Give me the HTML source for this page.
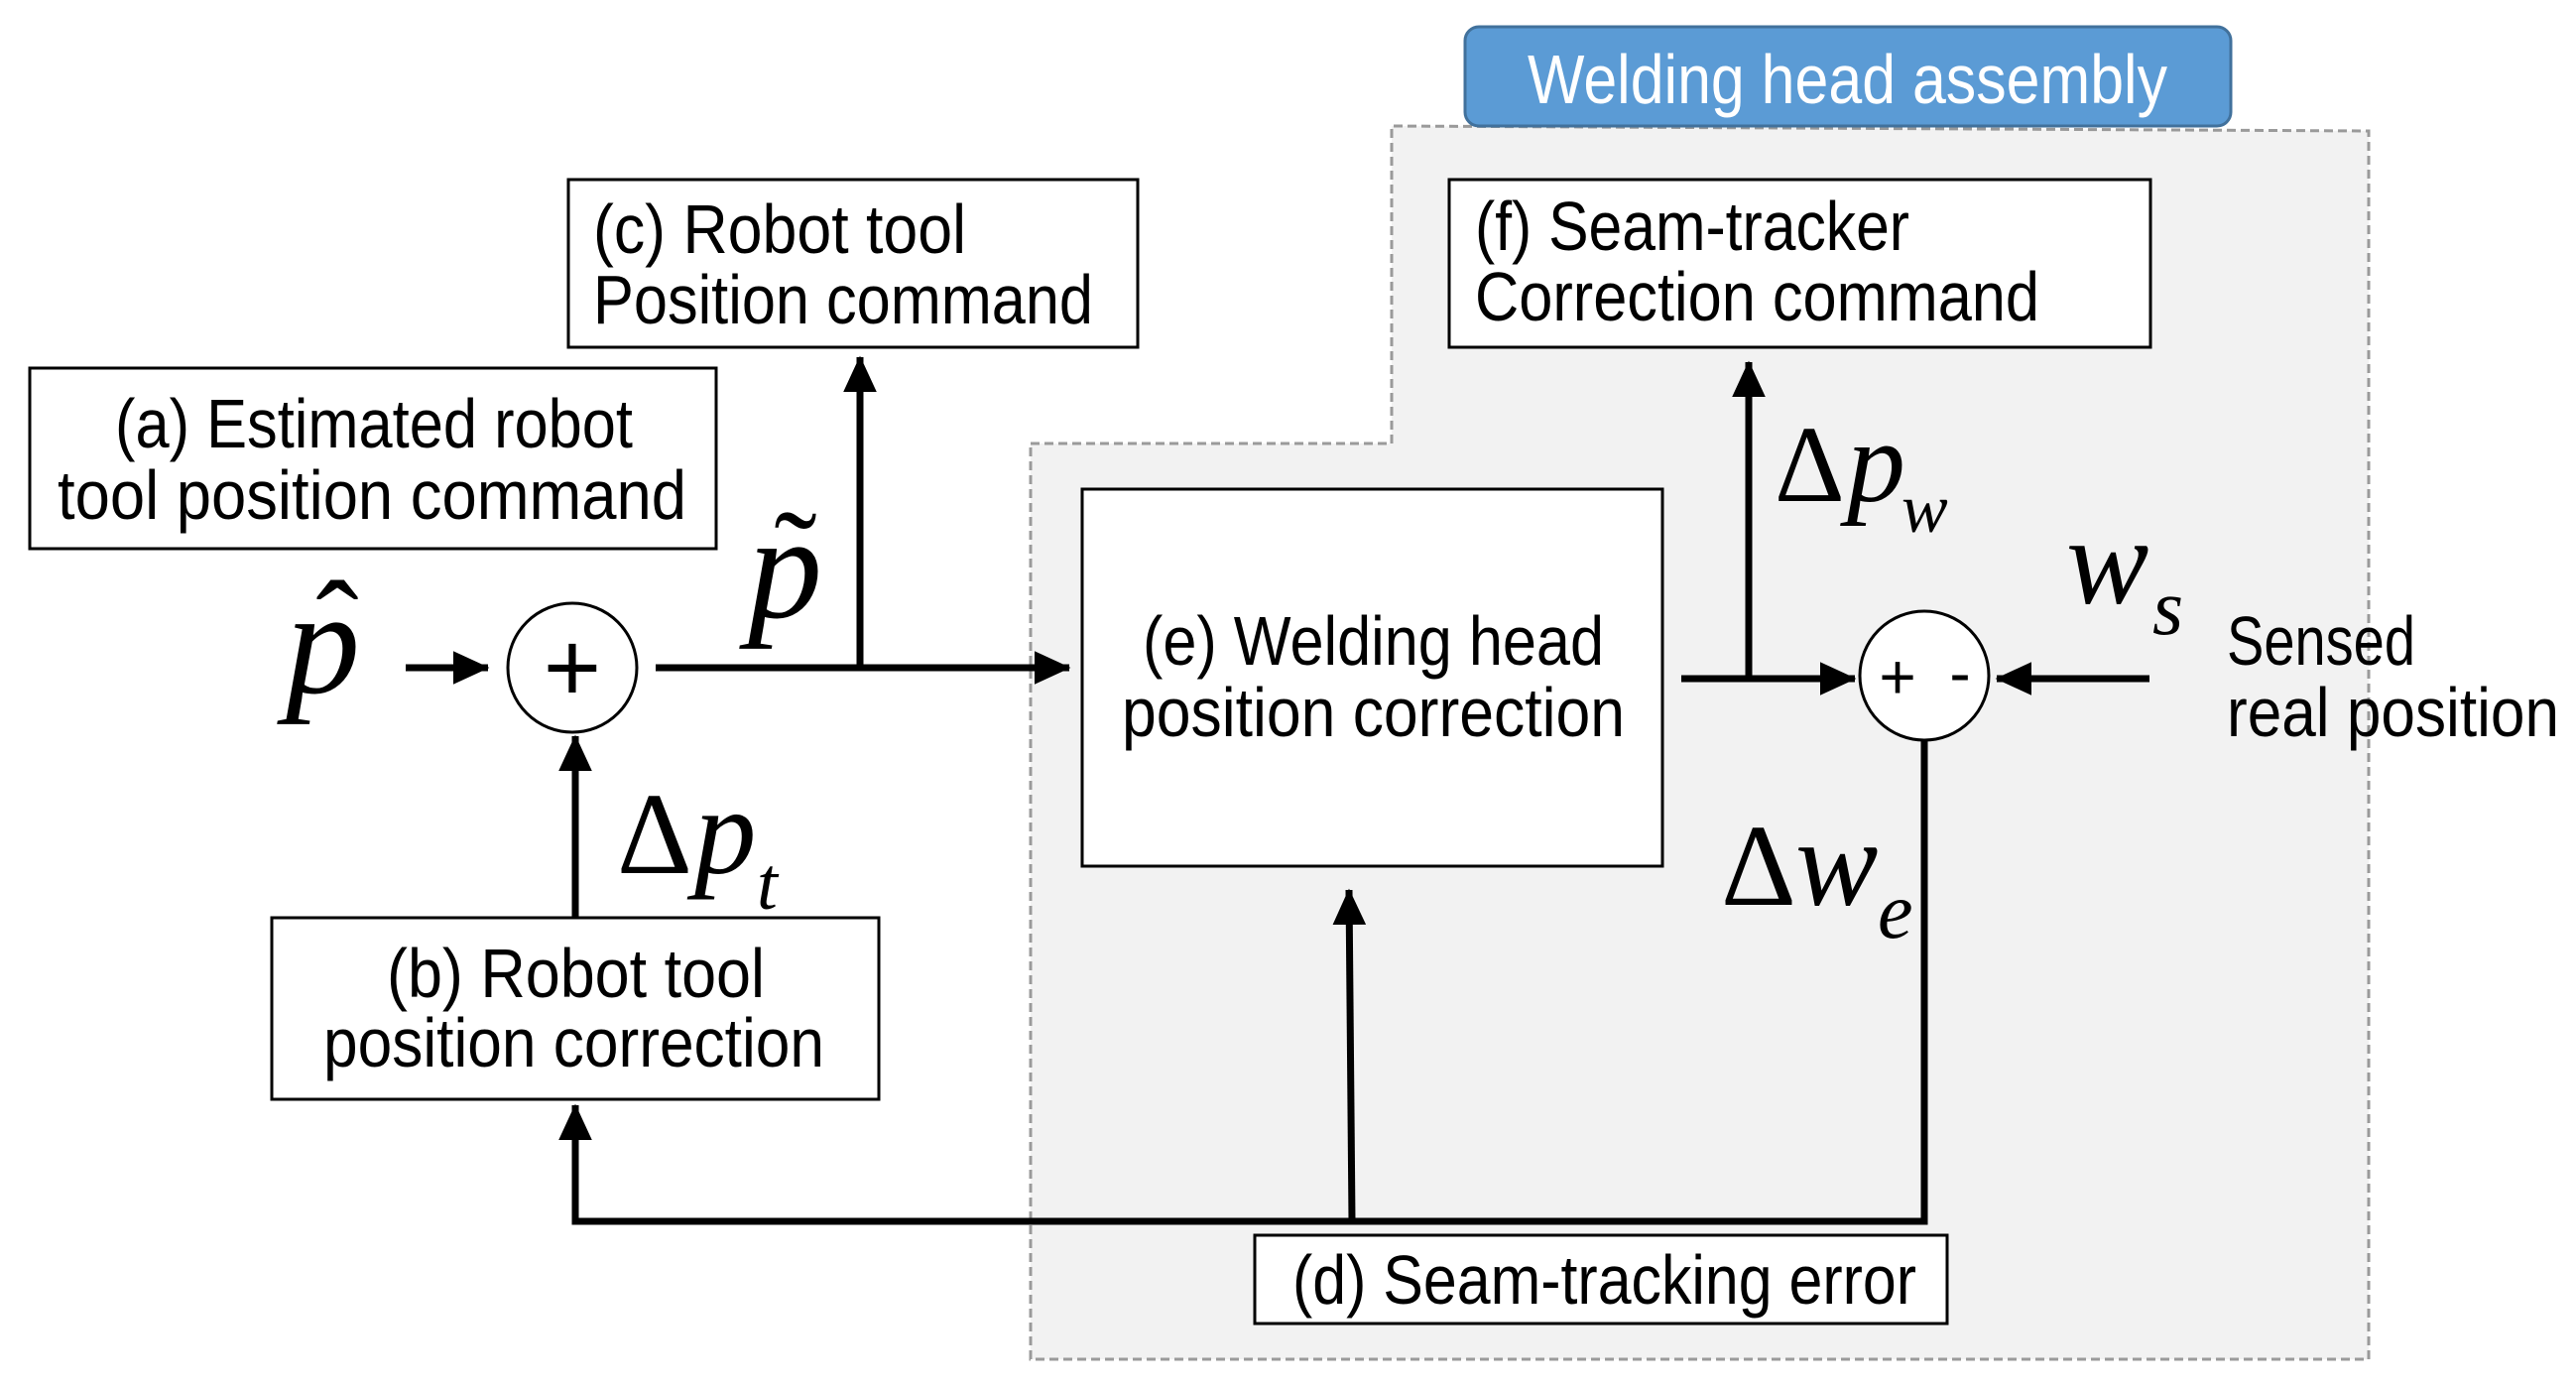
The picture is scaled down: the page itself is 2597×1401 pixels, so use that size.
<!DOCTYPE html>
<html><head><meta charset="utf-8"><style>
html,body{margin:0;padding:0;background:#fff;}
svg{display:block}
.t{font-family:"Liberation Sans",sans-serif;font-size:70px;fill:#000}
.m{font-family:"Liberation Serif",serif;font-style:italic;fill:#000}
.d{font-family:"Liberation Serif",serif;fill:#000}
</style></head><body>
<svg width="2597" height="1401" viewBox="0 0 2597 1401" xmlns="http://www.w3.org/2000/svg">
<defs>
<marker id="ah" markerWidth="6" markerHeight="6" refX="5" refY="3" orient="auto" markerUnits="strokeWidth">
<path d="M0,0.6 L5.2,3 L0,5.4 Z" fill="#000"/>
</marker>
</defs>
<path d="M1039,447 L1403,447 L1403,127 L2388,132 L2388,1370 L1039,1370 Z" fill="#f2f2f2" stroke="#9a9a9a" stroke-width="3" stroke-dasharray="9,5"/>
<rect x="1477" y="27" width="772" height="100" rx="14" fill="#5b9bd5" stroke="#41719c" stroke-width="3"/>
<text class="t" x="1540" y="104" style="fill:#fff" textLength="645" lengthAdjust="spacingAndGlyphs">Welding head assembly</text>

<rect x="573" y="181" width="574" height="169" fill="#fff" stroke="#000" stroke-width="3"/>
<text class="t" x="598" y="255" textLength="376" lengthAdjust="spacingAndGlyphs">(c) Robot tool</text>
<text class="t" x="598" y="326" textLength="504" lengthAdjust="spacingAndGlyphs">Position command</text>

<rect x="30" y="371" width="692" height="182" fill="#fff" stroke="#000" stroke-width="3"/>
<text class="t" x="116" y="451" textLength="522" lengthAdjust="spacingAndGlyphs">(a) Estimated robot</text>
<text class="t" x="58" y="523" textLength="634" lengthAdjust="spacingAndGlyphs">tool position command</text>

<rect x="274" y="925" width="612" height="183" fill="#fff" stroke="#000" stroke-width="3"/>
<text class="t" x="390" y="1005" textLength="381" lengthAdjust="spacingAndGlyphs">(b) Robot tool</text>
<text class="t" x="326" y="1075" textLength="505" lengthAdjust="spacingAndGlyphs">position correction</text>

<rect x="1091" y="493" width="585" height="380" fill="#fff" stroke="#000" stroke-width="3"/>
<text class="t" x="1152" y="670" textLength="465" lengthAdjust="spacingAndGlyphs">(e) Welding head</text>
<text class="t" x="1131" y="742" textLength="507" lengthAdjust="spacingAndGlyphs">position correction</text>

<rect x="1461" y="181" width="707" height="169" fill="#fff" stroke="#000" stroke-width="3"/>
<text class="t" x="1487" y="252" textLength="438" lengthAdjust="spacingAndGlyphs">(f) Seam-tracker</text>
<text class="t" x="1487" y="323" textLength="569" lengthAdjust="spacingAndGlyphs">Correction command</text>

<rect x="1265" y="1245" width="698" height="89" fill="#fff" stroke="#000" stroke-width="3"/>
<text class="t" x="1303" y="1314" textLength="629" lengthAdjust="spacingAndGlyphs">(d) Seam-tracking error</text>

<text class="t" x="2245" y="670" textLength="190" lengthAdjust="spacingAndGlyphs">Sensed</text>
<text class="t" x="2245" y="742" textLength="335" lengthAdjust="spacingAndGlyphs">real position</text>

<circle cx="577" cy="673" r="65" fill="#fff" stroke="#000" stroke-width="3"/>
<text x="577" y="707" text-anchor="middle" style="font-family:'Liberation Sans',sans-serif;font-size:100px">+</text>
<circle cx="1940" cy="681" r="65" fill="#fff" stroke="#000" stroke-width="3"/>
<text x="1913" y="704" text-anchor="middle" style="font-family:'Liberation Sans',sans-serif;font-size:64px">+</text>
<text x="1976" y="700" text-anchor="middle" style="font-family:'Liberation Sans',sans-serif;font-size:64px">-</text>

<g stroke="#000" stroke-width="7" fill="none">
<line x1="409" y1="673" x2="492" y2="673" marker-end="url(#ah)"/>
<line x1="661" y1="673" x2="1078" y2="673" marker-end="url(#ah)"/>
<line x1="867" y1="673" x2="867" y2="360" marker-end="url(#ah)"/>
<line x1="580" y1="925" x2="580" y2="742" marker-end="url(#ah)"/>
<polyline points="1940,746 1940,1231 580,1231 580,1114" marker-end="url(#ah)"/>
<line x1="1363" y1="1231" x2="1360" y2="897" marker-end="url(#ah)"/>
<line x1="1695" y1="684" x2="1870" y2="684" marker-end="url(#ah)"/>
<line x1="1763" y1="684" x2="1763" y2="365" marker-end="url(#ah)"/>
<line x1="2167" y1="684" x2="2013" y2="684" marker-end="url(#ah)"/>
</g>

<text class="m" x="288" y="698" style="font-size:150px">p</text>
<text class="d" x="340" y="675" text-anchor="middle" style="font-size:130px">ˆ</text>
<text class="m" x="754" y="622" style="font-size:150px">p</text>
<text class="d" x="802" y="604" text-anchor="middle" style="font-size:130px">˜</text>

<text class="d" x="622" y="880" style="font-size:118px">Δ</text>
<text class="m" x="700" y="880" style="font-size:125px">p</text>
<text class="m" x="763" y="916" style="font-size:75px">t</text>

<text class="d" x="1789" y="505" style="font-size:110px">Δ</text>
<text class="m" x="1862" y="505" style="font-size:118px">p</text>
<text class="m" x="1917" y="536" style="font-size:70px">w</text>

<text class="m" x="2083" y="608" style="font-size:125px">w</text>
<text class="m" x="2170" y="639" style="font-size:80px">s</text>

<text class="d" x="1735" y="912" style="font-size:118px">Δ</text>
<text class="m" x="1810" y="912" style="font-size:125px">w</text>
<text class="m" x="1893" y="945" style="font-size:80px">e</text>
</svg>
</body></html>
